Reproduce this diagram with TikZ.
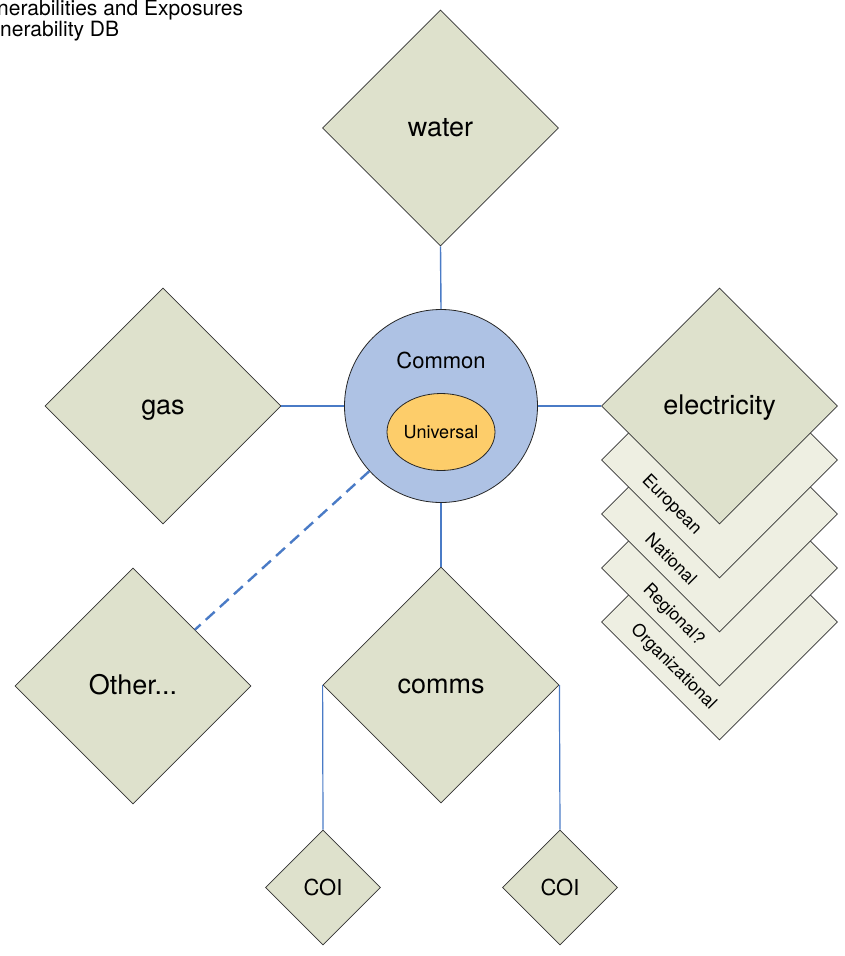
\documentclass[tikz,border=0pt]{standalone}
\usepackage{fontspec}
\setmainfont{TeX Gyre Heros}
\usetikzlibrary{shapes.geometric, calc}
\definecolor{myblue}{HTML}{4A7BC6}
\definecolor{mysage}{HTML}{DEE1CC}
\definecolor{mypale}{HTML}{EEEFE2}
\definecolor{myhub}{HTML}{AEC2E4}
\definecolor{myyellow}{HTML}{FDCD6A}

\begin{document}
\begin{tikzpicture}[x=1pt, y=-1pt,
    bigdia/.style={diamond, draw=black!80, fill=mysage, line width=0.8pt, minimum size=236pt, inner sep=0pt, text height=20pt, text depth=4pt, font=\fontsize{27}{30}\selectfont},
    layer/.style={bigdia, fill=mypale},
    smalldia/.style={bigdia, minimum size=115pt, text height=18pt, text depth=2pt, font=\fontsize{22}{26}\selectfont},
    layertext/.style={rotate=-45, inner sep=0pt, font=\fontsize{17.5}{20}\selectfont},
    link/.style={myblue, line width=1.4pt}]
                
                \useasboundingbox (0,0) rectangle (845,956);
                
                % clipped title, top left
                \node[anchor=base west, inner sep=0pt, font=\fontsize{21}{24}\selectfont] (title1) at (-3,15) {nerabilities and Exposures};
                \node[anchor=base west, inner sep=0pt, font=\fontsize{21}{24}\selectfont] (title2) at (0,36) {nerability DB};
                
                % stack behind electricity
                \node[layer] (org) at (719.5,622) {};
                \node[layer] (reg) at (719.5,568) {};
                \node[layer] (nat) at (719.5,514) {};
                \node[layer] (eu) at (719.5,460) {};
                
                \node[bigdia] (water) at (440.5,128) {water};
                \node[bigdia] (gas) at (163,406) {gas};
                \node[bigdia] (elec) at (719.5,406) {electricity};
                \node[bigdia] (other) at (133,686) {Other...};
                \node[bigdia] (comms) at (441,685) {comms};
                \node[smalldia] (coil) at (323,887.5) {COI};
                \node[smalldia] (coir) at (560,887.5) {COI};
                
                \node[circle, draw=black!85, fill=myhub, line width=0.8pt, minimum size=193pt] (common) at (441,406) {};
                \node[text height=18pt, text depth=2pt, font=\fontsize{22}{26}\selectfont] (commontext) at (441,360) {Common};
                \node[ellipse, draw=black!85, fill=myyellow, line width=0.8pt, minimum width=108pt, minimum height=77pt, inner sep=0pt, text height=15pt, text depth=2pt, font=\fontsize{18}{20}\selectfont] (universal) at (441,432) {Universal};
                
                \node[layertext] (eutext) at ($(eu.west)!0.5!(eu.south)+(11,-14)$) {European};
                \node[layertext] (nattext) at ($(nat.west)!0.5!(nat.south)+(11,-14)$) {National};
                \node[layertext] (regtext) at ($(reg.west)!0.5!(reg.south)+(13,-12)$) {Regional?};
                \node[layertext] (orgtext) at ($(org.west)!0.5!(org.south)+(13,-14)$) {Organizational};
                
                \draw[link] (water.south) -- (common.north);
                \draw[link] (gas.east) -- (common.west);
                \draw[link] (common.east) -- (elec.west);
                \draw[link] (common.south) -- (comms.north);
                \draw[link, line width=2.4pt, dash pattern=on 12pt off 7pt] (common) -- (other);
                \draw[link, line width=1.2pt] (comms.west) -- (coil.north);
                \draw[link, line width=1.2pt] (comms.east) -- (coir.north);
            \end{tikzpicture}
\end{document}
